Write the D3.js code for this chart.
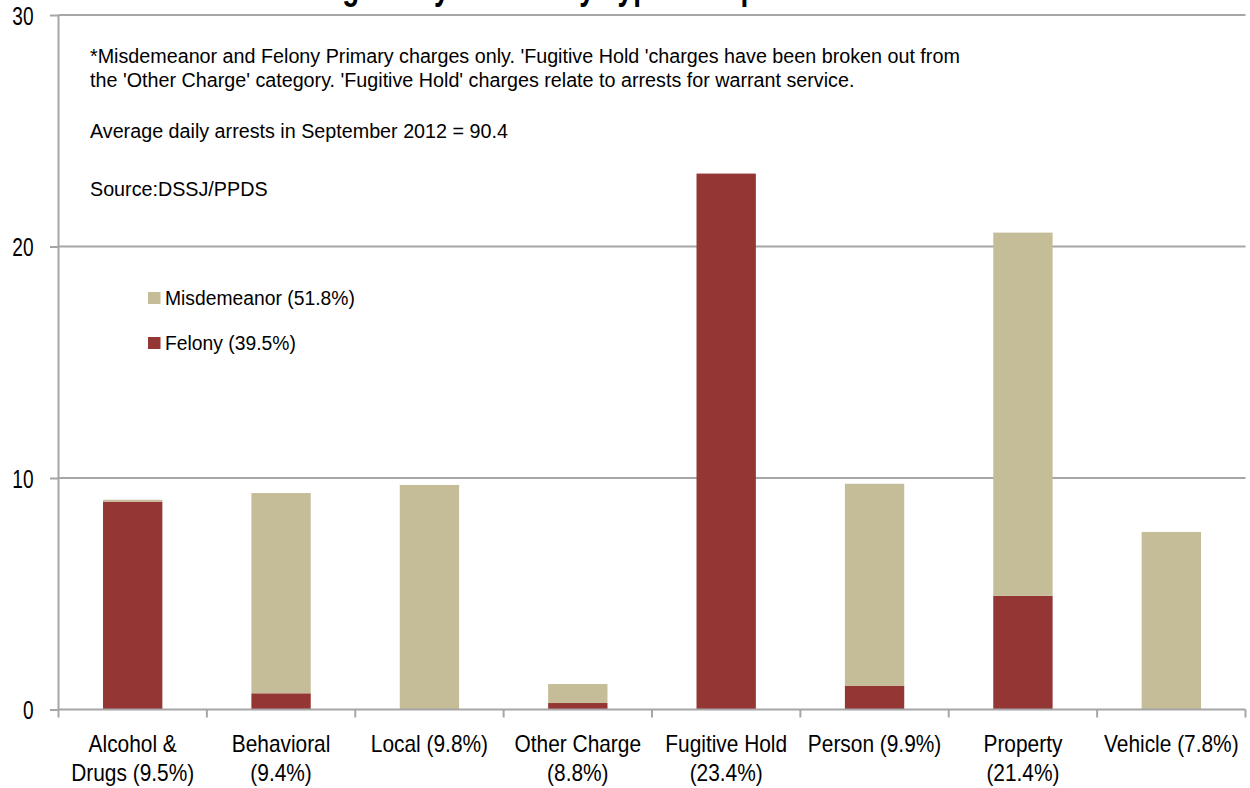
<!DOCTYPE html>
<html><head><meta charset="utf-8">
<script src="https://cdn.jsdelivr.net/npm/d3@7"></script>
<style>
html,body{margin:0;padding:0;background:#fff;}
svg{display:block;}
text{font-family:"Liberation Sans",Arial,sans-serif;fill:#000;}
</style></head>
<body>
<svg id="c" width="1250" height="788"></svg>
<script>
const categories = ["Alcohol &\nDrugs (9.5%)", "Behavioral\n(9.4%)", "Local (9.8%)", "Other Charge\n(8.8%)", "Fugitive Hold\n(23.4%)", "Person (9.9%)", "Property\n(21.4%)", "Vehicle (7.8%)"];
const felony = [8.98, 0.70, 0, 0.28, 23.15, 1.03, 4.91, 0];
const misdemeanor = [0.08, 8.65, 9.7, 0.82, 0, 8.72, 15.69, 7.67];
const yTicks = [0, 10, 20, 30];
const seriesNames = ["Misdemeanor (51.8%)", "Felony (39.5%)"];
const titleText = "Average Daily Arrests by Type in September 2012*";
const noteLines = [
  "*Misdemeanor and Felony Primary charges only. 'Fugitive Hold 'charges have been broken out from",
  "the 'Other Charge' category. 'Fugitive Hold' charges relate to arrests for warrant service.",
  "Average daily arrests in September 2012 = 90.4",
  "Source:DSSJ/PPDS"
];

const colFel = "#943634", colMis = "#C4BD97", gridCol = "#a6a6a6";
const svg = d3.select("#c");
const x0 = 58.5, x1 = 1245.5, yBot = 709.5, yTop = 15;

const x = d3.scaleBand().domain(categories).range([x0, x1]).paddingInner(0.6).paddingOuter(0.3);
const y = d3.scaleLinear().domain([0, 30]).range([yBot, yTop]);

function addText(parent, tx, ty, str, size, sx, anchor, weight) {
  return parent.append("text")
    .attr("transform", `translate(${tx},${ty}) scale(${sx},1)`)
    .attr("font-size", size).attr("text-anchor", anchor || "start")
    .attr("font-weight", weight || "normal").text(str);
}

// title (clipped at top, as in the reference)
addText(svg, 265.5, -1, titleText, 38, 0.737, "start", "bold");

// gridlines
svg.append("g").selectAll("line").data(yTicks.filter(d => d > 0)).join("line")
  .attr("x1", x0).attr("x2", x1).attr("y1", d => y(d)).attr("y2", d => y(d))
  .attr("stroke", gridCol).attr("stroke-width", 2);

// bars
const data = categories.map((c, i) => ({c, f: felony[i], m: misdemeanor[i]}));
const g = svg.append("g");
g.selectAll("rect.f").data(data).join("rect").attr("class", "f")
  .attr("x", d => x(d.c)).attr("width", x.bandwidth())
  .attr("y", d => y(d.f)).attr("height", d => y(0) - y(d.f)).attr("fill", colFel);
g.selectAll("rect.m").data(data).join("rect").attr("class", "m")
  .attr("x", d => x(d.c)).attr("width", x.bandwidth())
  .attr("y", d => y(d.f + d.m)).attr("height", d => y(d.f) - y(d.f + d.m)).attr("fill", colMis);

// y axis
const yAxis = d3.axisLeft(y).tickValues(yTicks).tickSize(8.5).tickFormat("");
const ya = svg.append("g").attr("transform", `translate(${x0},0)`).call(yAxis);
ya.select(".domain").attr("stroke", gridCol).attr("stroke-width", 2).attr("d", `M0,${yTop}V${yBot}`);
ya.selectAll(".tick line").attr("stroke", gridCol).attr("stroke-width", 2);
ya.selectAll(".tick text").remove();
const yl = svg.append("g");
yTicks.forEach(t => addText(yl, 33.5, y(t) + 9.5, String(t), 26.5, 0.72, "end"));

// x axis line + boundary ticks
svg.append("line").attr("x1", x0).attr("x2", x1).attr("y1", yBot).attr("y2", yBot)
  .attr("stroke", gridCol).attr("stroke-width", 2);
const step = x.step();
const bounds = categories.map(c => x(c) + x.bandwidth() / 2 - step / 2)
  .concat([x(categories[categories.length - 1]) + x.bandwidth() / 2 + step / 2]);
svg.append("g").selectAll("line").data(bounds).join("line")
  .attr("x1", d => d).attr("x2", d => d).attr("y1", yBot).attr("y2", yBot + 8)
  .attr("stroke", gridCol).attr("stroke-width", 2);

// x labels
const xlg = svg.append("g");
categories.forEach(c => {
  const t = addText(xlg, x(c) + x.bandwidth() / 2, 751.5, null, 24, 0.87, "middle");
  t.selectAll("tspan").data(c.split("\n")).join("tspan")
    .attr("x", 0).attr("dy", (p, i) => i === 0 ? 0 : 30).text(p => p);
});

// notes
const noteY = [63, 87, 137.5, 195.5];
const ng = svg.append("g");
noteLines.forEach((s, i) => addText(ng, 90, noteY[i], s, 21, 0.94, "start"));

// legend
const leg = svg.append("g").selectAll("g").data(seriesNames).join("g")
  .attr("transform", (d, i) => `translate(148,${292 + i * 45})`);
leg.append("rect").attr("width", 12.5).attr("height", 12).attr("fill", (d, i) => i === 0 ? colMis : colFel);
leg.each(function(d) { addText(d3.select(this), 17, 13, d, 21, 0.92, "start"); });
</script>
</body></html>
